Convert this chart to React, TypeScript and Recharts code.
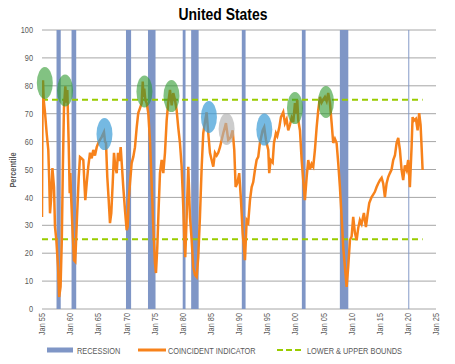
import React from 'react';
import {
  LineChart,
  Line,
  XAxis,
  YAxis,
  CartesianGrid,
  ReferenceArea,
  ReferenceDot,
} from 'recharts';

// Coincident indicator, percentile (decimal years)
const YEARS = [
  1955.0, 1955.06, 1955.12, 1955.18, 1955.3, 1955.55, 1955.83, 1955.95, 1956.12, 1956.3,
  1956.42, 1956.6, 1956.85, 1957.13, 1957.31, 1957.55, 1957.85, 1958.05, 1958.3, 1958.52,
  1958.7, 1958.9, 1959.14, 1959.38, 1959.5, 1959.74, 1959.92, 1960.03, 1960.2, 1960.45,
  1960.68, 1960.91, 1961.22, 1961.52, 1961.75, 1962.05, 1962.34, 1962.51, 1962.69, 1962.94,
  1963.22, 1963.53, 1963.83, 1964.11, 1964.41, 1964.72, 1965.0, 1965.3, 1965.6, 1966.01,
  1966.2, 1966.37, 1966.6, 1966.85, 1967.08, 1967.31, 1967.56, 1967.79, 1968.02, 1968.27,
  1968.5, 1968.73, 1968.98, 1969.21, 1969.44, 1969.74, 1970.04, 1970.22, 1970.4, 1970.63,
  1970.93, 1971.22, 1971.52, 1971.82, 1972.1, 1972.41, 1972.71, 1972.9, 1973.03, 1973.17,
  1973.35, 1973.6, 1973.88, 1974.18, 1974.48, 1974.77, 1975.07, 1975.25, 1975.48, 1975.73,
  1975.96, 1976.26, 1976.55, 1976.85, 1977.15, 1977.43, 1977.74, 1978.04, 1978.32, 1978.62,
  1978.92, 1979.21, 1979.51, 1979.81, 1980.1, 1980.28, 1980.45, 1980.7, 1980.99, 1981.29,
  1981.59, 1981.87, 1982.18, 1982.48, 1982.76, 1983.06, 1983.37, 1983.65, 1983.95, 1984.25,
  1984.54, 1984.84, 1985.14, 1985.43, 1985.73, 1986.03, 1986.31, 1986.62, 1986.92, 1987.2,
  1987.5, 1987.68, 1988.09, 1988.52, 1988.87, 1989.16, 1989.4, 1989.69, 1990.04, 1990.35,
  1990.65, 1990.88, 1991.06, 1991.36, 1991.64, 1991.95, 1992.25, 1992.53, 1992.83, 1993.13,
  1993.42, 1993.72, 1994.2, 1994.48, 1994.79, 1995.2, 1995.37, 1995.62, 1995.98, 1996.21,
  1996.56, 1996.8, 1997.15, 1997.45, 1997.86, 1998.16, 1998.46, 1998.75, 1999.05, 1999.35,
  1999.64, 1999.94, 2000.12, 2000.35, 2000.53, 2000.83, 2001.13, 2001.41, 2001.71, 2002.02,
  2002.3, 2002.6, 2002.9, 2003.19, 2003.49, 2003.79, 2004.08, 2004.38, 2004.68, 2004.96,
  2005.27, 2005.57, 2005.85, 2006.15, 2006.46, 2006.74, 2007.04, 2007.34, 2007.63, 2007.93,
  2008.23, 2008.52, 2008.82, 2009.12, 2009.4, 2009.71, 2010.01, 2010.29, 2010.6, 2010.9,
  2011.18, 2011.48, 2011.78, 2012.19, 2012.55, 2012.85, 2013.14, 2013.56, 2013.84, 2014.14,
  2014.45, 2014.73, 2015.04, 2015.34, 2015.62, 2015.92, 2016.22, 2016.51, 2016.81, 2017.11,
  2017.4, 2017.7, 2018.0, 2018.29, 2018.59, 2018.89, 2019.17, 2019.47, 2019.78, 2020.06,
  2020.36, 2020.66, 2020.84, 2021.07, 2021.43, 2021.73, 2022.01, 2022.26, 2022.4, 2022.62,
];
const INDICATOR = [
  33, 62, 76, 82, 75, 70, 63, 60.5, 57, 45,
  34.3, 39, 50.5, 43.7, 29.4, 24.7, 15, 4.3, 8, 25,
  50, 72, 79.8, 74, 78.5, 59.5, 41.5, 48.7, 39, 27,
  17.5, 17, 33, 47, 54.5, 54, 53.4, 46, 39, 45,
  51, 56, 54, 57, 55, 58, 59.5, 60.6, 61.6, 63.4,
  60, 59.5, 47.3, 39, 30.8, 34.4, 45, 56, 51, 48.7,
  56, 53, 58, 51, 43.7, 35.5, 28.3, 29.5, 39, 45,
  52.3, 54.5, 58, 65, 70.2, 72, 73.8, 81.5, 76, 79,
  75, 73.8, 70.2, 60.6, 45, 29.4, 16.5, 12.9, 22, 36.5,
  48.7, 53.4, 48.7, 56, 67.7, 74, 78.5, 73, 77.4, 75,
  71.3, 65, 59.5, 51, 36.5, 24.7, 18.6, 33, 51, 33,
  24.7, 15, 12.2, 11.5, 18.6, 33, 51, 63, 67, 70.5,
  63, 56, 53.4, 51, 56, 55, 56, 58, 60.6, 63,
  65.2, 66.6, 60.6, 61.5, 64, 57, 43.7, 45, 48.7, 39,
  27.2, 22, 17.5, 31.9, 31, 39, 43.7, 45.5, 49.8, 53.4,
  54.5, 59.5, 64, 65.2, 60.6, 57, 48.7, 53.4, 52.5, 59.5,
  63, 62, 65, 68.8, 70.6, 66.6, 68, 64, 66, 68.5,
  67, 73.8, 70, 75, 67.7, 64, 53.4, 46.2, 39, 47.3,
  53.4, 50, 52, 51, 57, 65, 71.3, 76, 74, 75,
  76, 74.5, 77.4, 74, 66.6, 59.5, 61, 59.5, 52.3, 43.7,
  33, 22, 15, 7.9, 15, 24.7, 26, 33, 27.2, 24.7,
  29, 31.9, 30.5, 34.4, 29.4, 34, 38, 40.1, 41, 42,
  43.7, 45, 46.2, 47, 45, 40.1, 45, 47.3, 48.7, 50,
  53.4, 55, 59.5, 61.3, 57, 49.8, 46.2, 51.5, 49.8, 53.4,
  43.7, 58, 68.8, 67.5, 68.2, 64, 70.2, 66, 60, 49.8,
];

// NBER recessions [start, end]
const RECESSIONS = [
  [1957.58, 1958.33],
  [1960.25, 1961.08],
  [1969.92, 1970.83],
  [1973.83, 1975.17],
  [1980.0, 1980.5],
  [1981.5, 1982.83],
  [1990.5, 1991.17],
  [2001.17, 2001.83],
  [2007.92, 2009.42],
  [2020.08, 2020.25],
];

const LOWER_BOUND = 25;
const UPPER_BOUND = 75;
const BOUNDS_END = 2022.62;

// highlighted peaks: year, level, kind
const HIGHLIGHT_YEARS = [1955.5, 1959.1, 1966.1, 1973.2, 1978.0, 1984.66, 1987.8, 1994.5, 1999.94, 2005.45];
const HIGHLIGHT_LEVELS = [81, 78.3, 62.7, 78, 76.3, 68.8, 64.5, 64.3, 72, 74.2];
const HIGHLIGHT_KINDS = ['green', 'green', 'blue', 'green', 'green', 'blue', 'gray', 'blue', 'green', 'green'];

const X_TICKS = [1955, 1960, 1965, 1970, 1975, 1980, 1985, 1990, 1995, 2000, 2005, 2010, 2015, 2020, 2025];
const Y_TICKS = [0, 10, 20, 30, 40, 50, 60, 70, 80, 90, 100];

// no Arial Narrow available, so squeeze Liberation Sans horizontally
const FONT = "'Liberation Sans', Arial, sans-serif";
const NARROW = 0.82;
const BAR_COLOR = '#7f96c6';
const LINE_COLOR = '#f7821b';
const BOUND_COLOR = '#99cc00';
const TEXT_COLOR = '#595959';

const HIGHLIGHT_FILL: Record<string, { fill: string; opacity: number }> = {
  green: { fill: '#2e9a2e', opacity: 0.6 },
  blue: { fill: '#3b9bd6', opacity: 0.7 },
  gray: { fill: '#b0b0b0', opacity: 0.65 },
};

const chartData = YEARS.map((year, i) => ({ year, value: INDICATOR[i] }));
const lowerData = [
  { year: YEARS[0], value: LOWER_BOUND },
  { year: BOUNDS_END, value: LOWER_BOUND },
];
const upperData = [
  { year: YEARS[0], value: UPPER_BOUND },
  { year: BOUNDS_END, value: UPPER_BOUND },
];

const fmtYear = (y: number) => `Jan ${String(y % 100).padStart(2, '0')}`;

// text squeezed along its own direction
const NarrowText = ({ x, y, angle = 0, children, ...rest }: any) => (
  <text
    x={0}
    y={0}
    transform={`translate(${x} ${y}) rotate(${angle}) scale(${NARROW} 1)`}
    fontFamily={FONT}
    {...rest}
  >
    {children}
  </text>
);

const XTick = (props: any) => {
  const { x, y, payload } = props;
  return (
    <NarrowText x={x} y={y} angle={-90} textAnchor="end" dy="0.35em" fontSize={9} fill={TEXT_COLOR}>
      {fmtYear(payload.value)}
    </NarrowText>
  );
};

const YTick = (props: any) => {
  const { x, y, payload } = props;
  return (
    <NarrowText x={x} y={y} textAnchor="end" dy="0.35em" fontSize={9} fill={TEXT_COLOR}>
      {payload.value}
    </NarrowText>
  );
};

const App = () => {
  return (
    <div style={{ position: 'absolute', left: 0, top: 0, width: 455, height: 364, background: '#fff' }}>
      <LineChart
        width={455}
        height={364}
        data={chartData}
        margin={{ top: 30, right: 19, bottom: 25, left: 0 }}
      >
        <CartesianGrid vertical={false} stroke="#a6a6a6" strokeWidth={1} />
        <XAxis
          dataKey="year"
          type="number"
          domain={[1955, 2025]}
          ticks={X_TICKS}
          interval={0}
          height={30}
          tickSize={0}
          tickMargin={4}
          axisLine={false}
          tickLine={false}
          tick={<XTick />}
          allowDataOverflow
        />
        <YAxis
          domain={[0, 100]}
          ticks={Y_TICKS}
          width={42}
          tickSize={0}
          tickMargin={9}
          axisLine={false}
          tickLine={false}
          tick={<YTick />}
        />
        {RECESSIONS.map(([start, end], i) => (
          <ReferenceArea
            key={`rec-${i}`}
            x1={start}
            x2={end}
            y1={0}
            y2={100}
            fill={BAR_COLOR}
            fillOpacity={1}
            stroke="none"
          />
        ))}
        <Line
          data={lowerData}
          dataKey="value"
          stroke={BOUND_COLOR}
          strokeWidth={2}
          strokeDasharray="6 4"
          dot={false}
          activeDot={false}
          isAnimationActive={false}
        />
        <Line
          data={upperData}
          dataKey="value"
          stroke={BOUND_COLOR}
          strokeWidth={2}
          strokeDasharray="6 4"
          dot={false}
          activeDot={false}
          isAnimationActive={false}
        />
        <Line
          dataKey="value"
          stroke={LINE_COLOR}
          strokeWidth={2.5}
          dot={false}
          activeDot={false}
          isAnimationActive={false}
        />
        {HIGHLIGHT_YEARS.map((year, i) => {
          const style = HIGHLIGHT_FILL[HIGHLIGHT_KINDS[i]];
          return (
            <ReferenceDot
              key={`hl-${i}`}
              x={year}
              y={HIGHLIGHT_LEVELS[i]}
              r={8}
              shape={(p: any) => (
                <ellipse
                  cx={p.cx}
                  cy={p.cy}
                  rx={8}
                  ry={16}
                  fill={style.fill}
                  fillOpacity={style.opacity}
                />
              )}
            />
          );
        })}
      </LineChart>
      <svg
        width={455}
        height={364}
        style={{ position: 'absolute', left: 0, top: 0, pointerEvents: 'none' }}
      >
        <NarrowText x={223} y={20} textAnchor="middle" fontSize={17} fontWeight="bold" fill="#000">
          United States
        </NarrowText>
        <NarrowText
          x={13}
          y={170}
          angle={-90}
          textAnchor="middle"
          dy="0.35em"
          fontSize={9}
          fontWeight="bold"
          fill={TEXT_COLOR}
        >
          Percentile
        </NarrowText>
        <rect x={47} y={347.5} width={26} height={5} fill={BAR_COLOR} />
        <NarrowText x={77} y={353.5} fontSize={9} fill={TEXT_COLOR}>
          RECESSION
        </NarrowText>
        <line x1={138} x2={166} y1={350} y2={350} stroke={LINE_COLOR} strokeWidth={3} />
        <NarrowText x={168} y={353.5} fontSize={9} fill={TEXT_COLOR}>
          COINCIDENT INDICATOR
        </NarrowText>
        <line x1={277} x2={302} y1={350} y2={350} stroke={BOUND_COLOR} strokeWidth={2} strokeDasharray="6 3" />
        <NarrowText x={307} y={353.5} fontSize={9} fill={TEXT_COLOR}>
          LOWER &amp; UPPER BOUNDS
        </NarrowText>
      </svg>
    </div>
  );
};

export default App;
